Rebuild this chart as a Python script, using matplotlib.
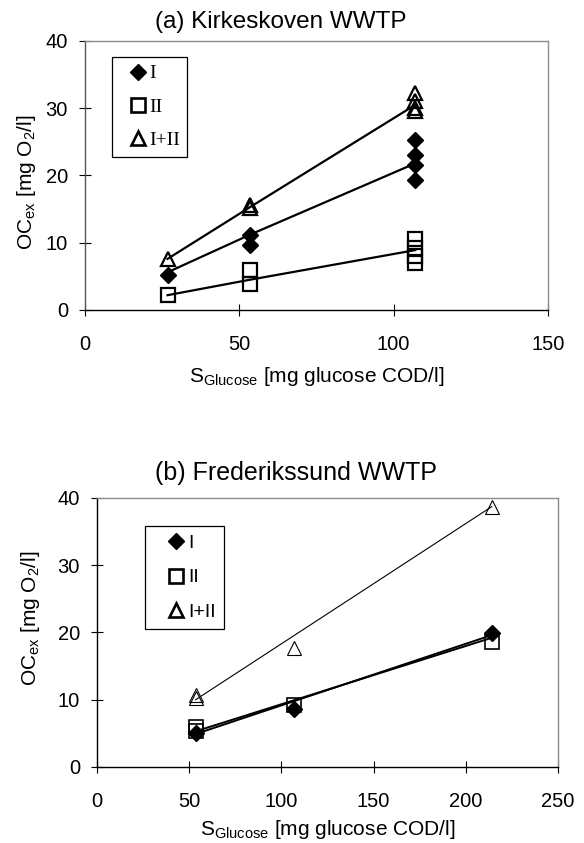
import matplotlib

matplotlib.use("Agg")
import matplotlib.pyplot as plt

plt.rcParams["font.family"] = ["Liberation Sans", "DejaVu Sans"]
plt.rcParams["mathtext.fontset"] = "custom"
plt.rcParams["mathtext.rm"] = "Liberation Sans"
plt.rcParams["mathtext.it"] = "Liberation Sans:italic"

# (a) Kirkeskoven WWTP -- glucose doses and measured OCex
KIRKE_DOSES = [26.75, 53.5, 107]
KIRKE_PT_X = [26.75, 53.5, 53.5, 107, 107, 107, 107]
KIRKE_I = [5.2, 11.2, 9.7, 25.3, 23.0, 21.5, 19.3]
KIRKE_II = [2.2, 6.0, 3.9, 10.5, 9.2, 8.0, 7.0]
KIRKE_SUM = [7.6, 15.6, 15.1, 32.2, 31.0, 30.0, 29.6]
KIRKE_I_FIT = [5.6, 11.2, 21.8]
KIRKE_II_FIT = [2.2, 4.5, 8.9]
KIRKE_SUM_FIT = [7.6, 15.3, 30.5]

# (b) Frederikssund WWTP
FRED_I_X = [53.5, 107, 214]
FRED_I = [5.0, 8.6, 19.9]
FRED_PT_X = [53.5, 53.5, 107, 214]
FRED_II = [6.0, 5.4, 9.2, 18.6]
FRED_SUM = [10.7, 10.3, 17.7, 38.7]
FRED_FIT_X = [53.5, 214]
FRED_I_FIT = [4.9, 19.6]
FRED_II_FIT = [5.3, 19.2]
FRED_SUM_FIT = [10.0, 38.7]

LABELS = ["I", "II", "I+II"]
XLABEL = r"S$_{\mathrm{Glucose}}$ [mg glucose COD/l]"
YLABEL = r"OC$_{\mathrm{ex}}$ [mg O$_2$/l]"


def style_axes(ax, xmax, left_color):
    ax.set_xlim(0, xmax)
    ax.set_ylim(0, 40)
    ax.set_xticks(range(0, xmax + 1, 50))
    ax.set_yticks(range(0, 41, 10))
    ax.spines["top"].set_color("#8c8c8c")
    ax.spines["right"].set_color("#8c8c8c")
    ax.spines["left"].set_color(left_color)
    ax.spines["bottom"].set_color("black")
    for sp in ax.spines.values():
        sp.set_linewidth(1.0)
    ax.tick_params(direction="inout", length=8.5, width=0.8, labelsize=14.5,
                   colors="black")
    ax.tick_params(axis="x", pad=14)
    ax.tick_params(axis="y", pad=8)
    ax.set_xlabel(XLABEL, fontsize=15)
    ax.set_ylabel(YLABEL, fontsize=15)


def box_legend(ax, handles, anchor, prop, hl, htp, bp, ls):
    leg = ax.legend(handles=handles, loc="upper left", bbox_to_anchor=anchor,
                    borderaxespad=0, prop=prop, handlelength=hl,
                    handletextpad=htp, borderpad=bp, labelspacing=ls,
                    fancybox=False, framealpha=1)
    leg.get_frame().set_edgecolor("black")
    leg.get_frame().set_linewidth(0.9)
    for lh in leg.legend_handles[1:]:
        lh.set_markeredgewidth(1.9)
    return leg


fig = plt.figure(figsize=(5.84, 8.43), dpi=100)

# ---- panel (a)
ax = fig.add_axes([0.1455, 0.6323, 0.7928, 0.3191])
ax.plot(KIRKE_DOSES, KIRKE_I_FIT, color="black", lw=1.6)
ax.plot(KIRKE_DOSES, KIRKE_II_FIT, color="black", lw=1.6)
ax.plot(KIRKE_DOSES, KIRKE_SUM_FIT, color="black", lw=1.6)
h1, = ax.plot(KIRKE_PT_X, KIRKE_I, ls="none", marker="D", ms=7.8,
              color="black", label=LABELS[0])
h2, = ax.plot(KIRKE_PT_X, KIRKE_II, ls="none", marker="s", ms=10.5,
              mew=1.6, mec="black", mfc="none", label=LABELS[1])
h3, = ax.plot(KIRKE_PT_X, KIRKE_SUM, ls="none", marker="^", ms=10.5,
              mew=1.6, mec="black", mfc="none", label=LABELS[2])
style_axes(ax, 150, "#555555")
ax.xaxis.set_label_coords(0.5, -0.205)
ax.yaxis.set_label_coords(-0.102, 0.476)
box_legend(ax, [h1, h2, h3], (0.058, 0.94),
           {"family": "Liberation Serif", "size": 14},
           hl=1.87, htp=-0.37, bp=0.4, ls=0.8)

fig.text(0.481, 0.974, "(a) Kirkeskoven WWTP", ha="center", va="center",
         fontsize=17.5)

# ---- panel (b)
ax = fig.add_axes([0.1661, 0.0902, 0.7894, 0.3191])
ax.plot(FRED_FIT_X, FRED_I_FIT, color="black", lw=1.4)
ax.plot(FRED_FIT_X, FRED_II_FIT, color="black", lw=1.4)
ax.plot(FRED_FIT_X, FRED_SUM_FIT, color="black", lw=0.8)
h1, = ax.plot(FRED_I_X, FRED_I, ls="none", marker="D", ms=7.8,
              color="black", label=LABELS[0])
h2, = ax.plot(FRED_PT_X, FRED_II, ls="none", marker="s", ms=10.5,
              mew=1.2, mec="black", mfc="none", label=LABELS[1])
h3, = ax.plot(FRED_PT_X, FRED_SUM, ls="none", marker="^", ms=10.5,
              mew=0.8, mec="black", mfc="none", label=LABELS[2])
style_axes(ax, 250, "black")
ax.xaxis.set_label_coords(0.5, -0.19)
ax.yaxis.set_label_coords(-0.119, 0.554)
box_legend(ax, [h1, h2, h3], (0.104, 0.896), {"size": 14},
           hl=2.29, htp=-0.53, bp=0.45, ls=0.85)

fig.text(0.507, 0.4389, "(b) Frederikssund WWTP", ha="center", va="center",
         fontsize=18)

fig.savefig("out.png", dpi=100)
